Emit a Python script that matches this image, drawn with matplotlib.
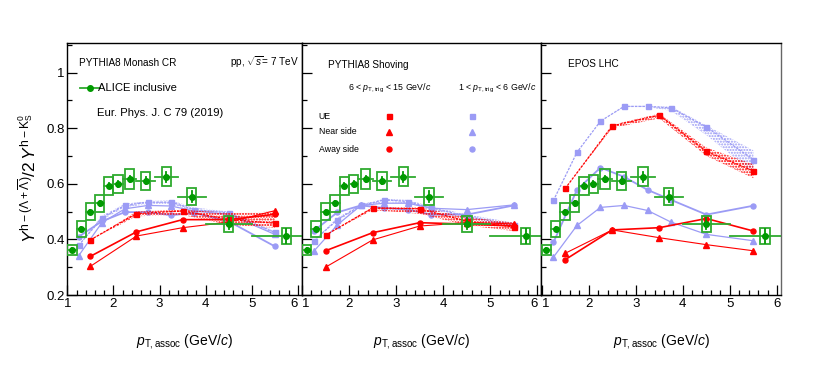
import numpy as np
import matplotlib
matplotlib.use("Agg")
import matplotlib.pyplot as plt
from matplotlib.patches import Rectangle

plt.rcParams['font.family'] = ['Liberation Sans', 'DejaVu Sans']
plt.rcParams['mathtext.fontset'] = 'custom'
plt.rcParams['mathtext.rm'] = 'Liberation Sans'
plt.rcParams['mathtext.it'] = 'Liberation Sans:italic'
plt.rcParams['mathtext.bf'] = 'Liberation Sans:bold'
plt.rcParams['hatch.linewidth'] = 1.0

# ---------------- data ----------------
# ALICE inclusive
alice_x = [1.1, 1.3, 1.5, 1.7, 1.9, 2.1, 2.35, 2.7, 3.15, 3.7, 4.5, 5.75]
alice_xlo = [1.0, 1.2, 1.4, 1.6, 1.8, 2.0, 2.2, 2.5, 2.9, 3.4, 4.0, 5.0]
alice_xhi = [1.2, 1.4, 1.6, 1.8, 2.0, 2.2, 2.5, 2.9, 3.4, 4.0, 5.0, 6.5]
alice_y = [0.362, 0.438, 0.499, 0.530, 0.593, 0.599, 0.617, 0.611, 0.625, 0.554, 0.456, 0.412]
alice_stat = [0.006, 0.008, 0.008, 0.009, 0.010, 0.011, 0.012, 0.013, 0.017, 0.020, 0.020, 0.025]
alice_sys = [0.019, 0.028, 0.031, 0.030, 0.032, 0.032, 0.035, 0.032, 0.034, 0.031, 0.028, 0.029]

# model pT,assoc bins
x_high = [1.5, 2.5, 3.5, 4.5, 5.5]                       # 6 < pT,trig < 15
x_low = [1.25, 1.75, 2.25, 2.75, 3.25, 3.75, 4.5, 5.5]   # 1 < pT,trig < 6

# PYTHIA8 Monash CR
monash_high_ue = [0.398, 0.493, 0.502, 0.472, 0.458]
monash_high_ue_lo = [0.398, 0.483, 0.488, 0.452, 0.442]
monash_high_ue_hi = [0.398, 0.500, 0.507, 0.495, 0.500]
monash_high_near = [0.303, 0.412, 0.442, 0.462, 0.503]
monash_high_away = [0.339, 0.427, 0.471, 0.471, 0.490]
monash_low_ue = [0.379, 0.478, 0.522, 0.534, 0.534, 0.507, 0.495, 0.425]
monash_low_ue_lo = [0.379, 0.470, 0.515, 0.527, 0.527, 0.500, 0.488, 0.420]
monash_low_ue_hi = [0.379, 0.485, 0.528, 0.538, 0.540, 0.515, 0.500, 0.430]
monash_low_near = [0.342, 0.460, 0.510, 0.522, 0.520, 0.502, 0.490, 0.418]
monash_low_away = [0.410, 0.465, 0.498, 0.498, 0.487, 0.495, 0.465, 0.375]

# PYTHIA8 Shoving
shoving_high_ue = [0.415, 0.513, 0.510, 0.465, 0.445]
shoving_high_ue_lo = [0.415, 0.505, 0.492, 0.450, 0.430]
shoving_high_ue_hi = [0.415, 0.516, 0.515, 0.480, 0.460]
shoving_high_near = [0.300, 0.398, 0.448, 0.460, 0.456]
shoving_high_away = [0.359, 0.424, 0.460, 0.455, 0.448]
shoving_low_ue = [0.395, 0.471, 0.522, 0.542, 0.536, 0.513, 0.483, 0.450]
shoving_low_ue_lo = [0.395, 0.465, 0.516, 0.535, 0.530, 0.505, 0.475, 0.440]
shoving_low_ue_hi = [0.395, 0.478, 0.526, 0.546, 0.542, 0.518, 0.490, 0.460]
shoving_low_near = [0.357, 0.452, 0.522, 0.530, 0.530, 0.512, 0.507, 0.524]
shoving_low_away = [0.430, 0.497, 0.522, 0.513, 0.507, 0.489, 0.489, 0.522]

# EPOS LHC
epos_high_ue = [0.583, 0.808, 0.847, 0.716, 0.646]
epos_high_ue_lo = [0.583, 0.800, 0.835, 0.700, 0.620]
epos_high_ue_hi = [0.583, 0.812, 0.852, 0.730, 0.670]
epos_high_near = [0.350, 0.434, 0.406, 0.381, 0.359]
epos_high_away = [0.327, 0.434, 0.442, 0.475, 0.430]
epos_low_ue = [0.540, 0.713, 0.825, 0.878, 0.878, 0.873, 0.804, 0.687]
epos_low_ue_lo = [0.540, 0.713, 0.825, 0.876, 0.876, 0.862, 0.775, 0.640]
epos_low_ue_hi = [0.540, 0.713, 0.825, 0.880, 0.880, 0.878, 0.810, 0.720]
epos_low_near = [0.336, 0.450, 0.515, 0.522, 0.504, 0.462, 0.418, 0.395]
epos_low_away = [0.389, 0.578, 0.658, 0.625, 0.578, 0.542, 0.489, 0.521]

x_tick_labels = ['1', '2', '3', '4', '5', '6']
y_tick_labels = ['0.2', '0.4', '0.6', '0.8', '1']

panels = [
    ("PYTHIA8 Monash CR", monash_high_ue, monash_high_ue_lo, monash_high_ue_hi, monash_high_near, monash_high_away,
     monash_low_ue, monash_low_ue_lo, monash_low_ue_hi, monash_low_near, monash_low_away),
    ("PYTHIA8 Shoving", shoving_high_ue, shoving_high_ue_lo, shoving_high_ue_hi, shoving_high_near, shoving_high_away,
     shoving_low_ue, shoving_low_ue_lo, shoving_low_ue_hi, shoving_low_near, shoving_low_away),
    ("EPOS LHC", epos_high_ue, epos_high_ue_lo, epos_high_ue_hi, epos_high_near, epos_high_away,
     epos_low_ue, epos_low_ue_lo, epos_low_ue_hi, epos_low_near, epos_low_away),
]

RED = '#ff0000'
BLUE = '#9b9bf5'
GREEN_M = '#009a00'
GREEN_B = '#2eaa2e'

W, H = 830, 369
fig = plt.figure(figsize=(W / 100, H / 100), dpi=100)
bottom_px, top_px = 295.0, 43.3
edges = [67.3, 301.5, 541.2, 780.7]
axes = []
for i in range(3):
    l = edges[i] / W
    w = (edges[i + 1] - edges[i]) / W
    ax = fig.add_axes([l, (H - bottom_px) / H, w, (bottom_px - top_px) / H])
    axes.append(ax)

for i, ax in enumerate(axes):
    (title, h_ue, h_lo, h_hi, h_near, h_away, l_ue, l_lo, l_hi, l_near, l_away) = panels[i]
    ax.set_xlim(1.0 if i == 0 else 0.99, 6.08)
    ax.set_ylim(0.2, 1.105)

    # blue (1 < pT,trig < 6)
    ax.fill_between(x_low, l_lo, l_hi, facecolor='none', edgecolor=BLUE, hatch='......', linewidth=0, zorder=2)
    ax.plot(x_low, l_ue, color=BLUE, lw=0.9, ls=(0, (2, 1)), marker='s', ms=3.6, zorder=3)
    ax.plot(x_low, l_near, color=BLUE, lw=0.9, marker='^', ms=4.2, zorder=3)
    ax.plot(x_low, l_away, color=BLUE, lw=1.3, marker='o', ms=3.6, zorder=3)

    # red (6 < pT,trig < 15)
    ax.fill_between(x_high, h_lo, h_hi, facecolor='none', edgecolor=RED, hatch='......', linewidth=0, zorder=4)
    ax.plot(x_high, h_ue, color=RED, lw=0.9, ls=(0, (2, 1)), marker='s', ms=3.6, zorder=5)
    ax.plot(x_high, h_near, color=RED, lw=0.8, marker='^', ms=4.2, zorder=5)
    ax.plot(x_high, h_away, color=RED, lw=1.2, marker='o', ms=3.6, zorder=5)

    # ALICE data
    for xc, xl, xh, yc, st, sy in zip(alice_x, alice_xlo, alice_xhi, alice_y, alice_stat, alice_sys):
        ax.add_patch(Rectangle((xc - 0.1, yc - sy), 0.2, 2 * sy, facecolor='none',
                               edgecolor=GREEN_B, lw=1.3, zorder=6))
        ax.plot([xl, xh], [yc, yc], color=GREEN_B, lw=1.3, zorder=6)
        ax.plot([xc, xc], [yc - st, yc + st], color=GREEN_M, lw=1.3, zorder=7)
    ax.plot(alice_x, alice_y, ls='none', marker='o', ms=4, color=GREEN_M, zorder=8)

    # axes styling
    ax.set_xticks([1, 2, 3, 4, 5, 6])
    ax.set_xticks(np.arange(1.0, 6.09, 0.2), minor=True)
    ax.set_yticks([0.2, 0.4, 0.6, 0.8, 1.0])
    ax.set_yticks(np.arange(0.2, 1.11, 0.1), minor=True)
    ax.tick_params(which='both', direction='in', top=False, right=False, labelsize=9.5, pad=2)
    ax.tick_params(which='major', length=7, width=0.9)
    ax.tick_params(which='minor', length=3.5, width=0.9)
    ax.set_xticklabels(x_tick_labels)
    labs = ax.get_xticklabels()
    if i > 0:
        labs[0].set_horizontalalignment('left')
    if i < 2:
        labs[-1].set_horizontalalignment('right')
    if i == 0:
        ax.set_yticklabels(y_tick_labels)
    else:
        ax.set_yticklabels([])
    for s in ax.spines.values():
        s.set_linewidth(1.0)
    if i == 2:
        ax.spines['right'].set_color('#666666')

    ax.text(0.5, -0.185, r'$p_{\mathrm{T,assoc}}$ (GeV/$c$)', transform=ax.transAxes,
            ha='center', va='center', fontsize=10)

# panel texts
ax1, ax2, ax3 = axes
ax1.text(0.05, 0.923, 'PYTHIA8 Monash CR', transform=ax1.transAxes, fontsize=7.2, va='center', ha='left')
ax1.text(0.988, 0.923, r'pp, $\sqrt{s}$= 7 TeV', transform=ax1.transAxes, fontsize=7.2, va='center', ha='right')
ax1.plot([0.054, 0.140], [0.822, 0.822], transform=ax1.transAxes, color=GREEN_B, lw=1.3)
ax1.plot([0.097], [0.822], transform=ax1.transAxes, marker='o', ms=4, color=GREEN_M)
ax1.text(0.13, 0.822, 'ALICE inclusive', transform=ax1.transAxes, fontsize=8.1, va='center', ha='left')
ax1.text(0.127, 0.723, 'Eur. Phys. J. C 79 (2019)', transform=ax1.transAxes, fontsize=8.1, va='center', ha='left')

ax2.text(0.11, 0.914, 'PYTHIA8 Shoving', transform=ax2.transAxes, fontsize=7.2, va='center', ha='left')
ax2.text(0.194, 0.822, r'6 < $p_{\mathrm{T,trig}}$ < 15 GeV/$c$', transform=ax2.transAxes, fontsize=6.3, va='center', ha='left')
ax2.text(0.654, 0.822, r'1 < $p_{\mathrm{T,trig}}$ < 6 GeV/$c$', transform=ax2.transAxes, fontsize=6.3, va='center', ha='left')
for lab, yy, mk, ms in [('UE', 0.711, 's', 3.6), ('Near side', 0.648, '^', 4.2), ('Away side', 0.58, 'o', 3.6)]:
    ax2.text(0.072, yy, lab, transform=ax2.transAxes, fontsize=6.3, va='center', ha='left')
    ax2.plot([0.365], [yy], transform=ax2.transAxes, marker=mk, ms=ms, color=RED, ls='none')
    ax2.plot([0.713], [yy], transform=ax2.transAxes, marker=mk, ms=ms, color=BLUE, ls='none')

ax3.text(0.11, 0.918, 'EPOS LHC', transform=ax3.transAxes, fontsize=7.2, va='center', ha='left')

fig.text(28 / W, 1 - 178 / H,
         r'$Y^{\mathrm{h}-(\Lambda+\overline{\Lambda})}/2\,Y^{\mathrm{h}-\mathrm{K}^{0}_{\mathrm{S}}}$',
         rotation=90, ha='center', va='center', fontsize=12.5)

fig.savefig('out.png', dpi=100)
